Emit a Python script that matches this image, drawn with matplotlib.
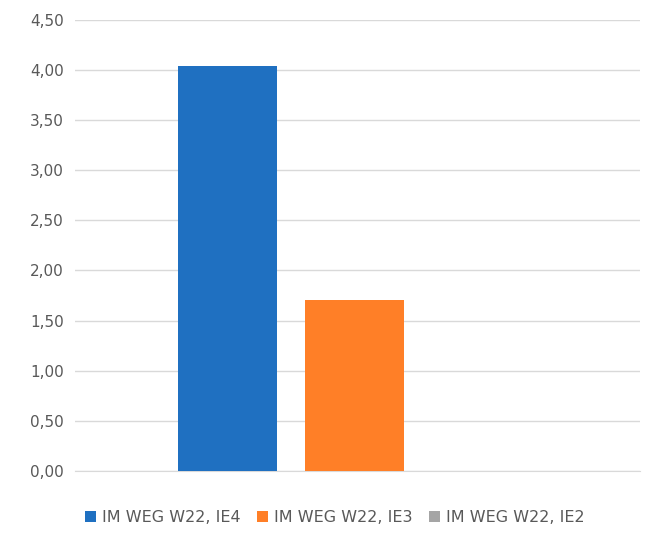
import matplotlib.pyplot as plt
import numpy as np
from matplotlib.ticker import FuncFormatter

# Dados
series = ["IM WEG W22, IE4", "IM WEG W22, IE3", "IM WEG W22, IE2"]
values = [4.04, 1.71, 0.0]
colors = ["#1F70C1", "#FF7F27", "#A5A5A5"]

fig = plt.figure(figsize=(6.51, 5.4), dpi=100)
ax = fig.add_axes([0.115, 0.128, 0.868, 0.835])

x = np.arange(len(series))
for i, (name, val, col) in enumerate(zip(series, values, colors)):
    ax.bar(x[i], val, width=0.78, color=col, label=name, zorder=3)

ax.set_xlim(-1.205, 3.244)
ax.set_ylim(0, 4.5)
ax.set_yticks(np.arange(0, 4.51, 0.5))
ax.yaxis.set_major_formatter(FuncFormatter(lambda v, p: f"{v:.2f}".replace(".", ",")))
ax.set_xticks([])
ax.grid(axis="y", color="#D9D9D9", linewidth=1, zorder=0)
for s in ["top", "right", "left"]:
    ax.spines[s].set_visible(False)
ax.spines["bottom"].set_color("#D9D9D9")
ax.tick_params(axis="y", length=0, labelsize=11, labelcolor="#595959", pad=8)

ax.legend(loc="upper center", bbox_to_anchor=(0.46, -0.055), ncol=3, frameon=False,
          fontsize=11.5, labelcolor="#595959", handlelength=0.7, handleheight=0.7,
          columnspacing=1.0, handletextpad=0.4)

fig.savefig("out.png", dpi=100)
